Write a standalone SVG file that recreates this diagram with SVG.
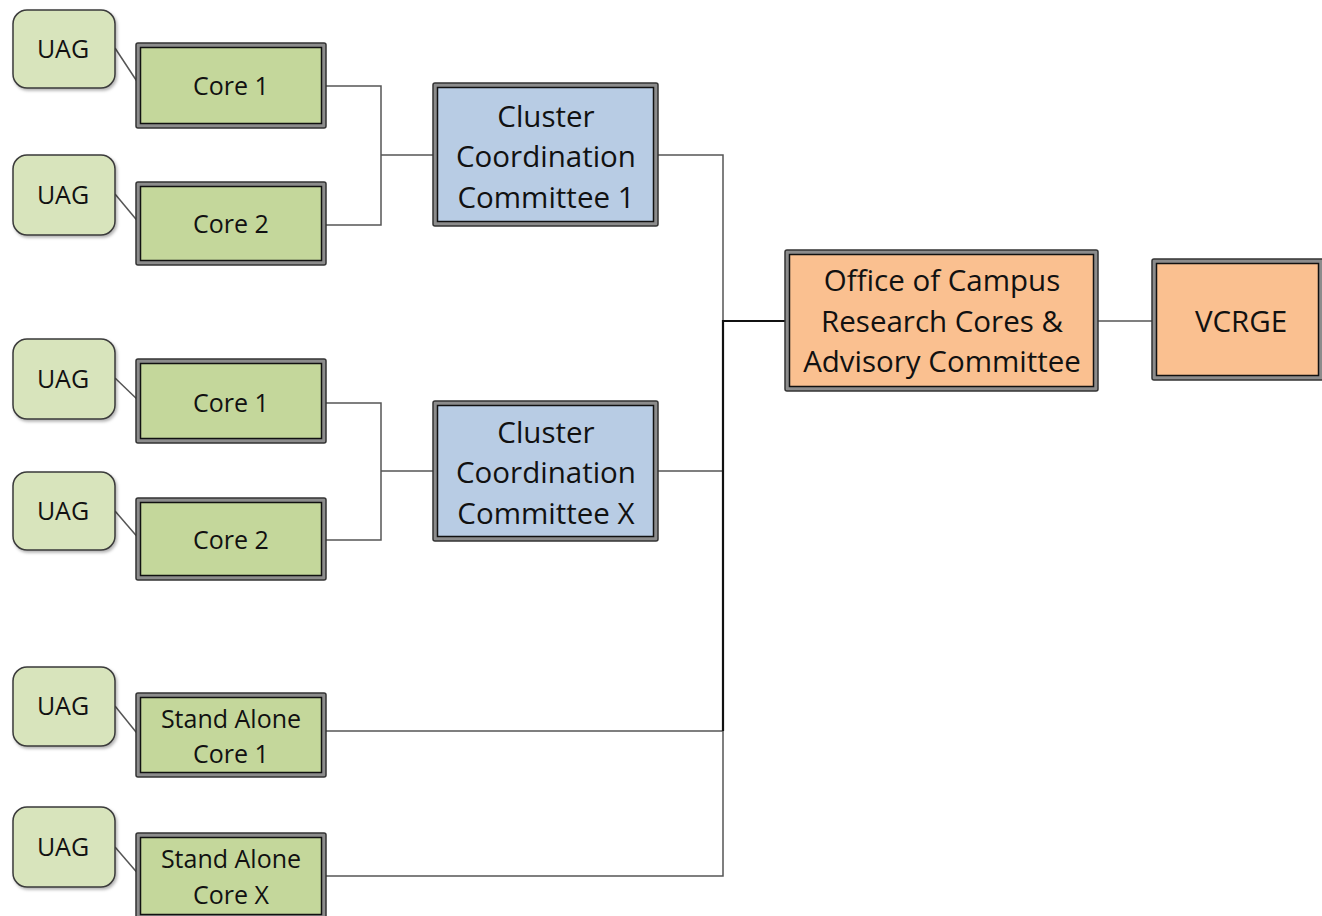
<svg xmlns="http://www.w3.org/2000/svg" width="1322" height="916" viewBox="0 0 1322 916">
<defs>
<filter id="sh" x="-10%" y="-10%" width="130%" height="130%">
<feDropShadow dx="1.5" dy="2" stdDeviation="1.5" flood-color="#000" flood-opacity="0.3"/>
</filter>
<style>
.uag{fill:#d8e4bc;stroke:#3a3a3a;stroke-width:1.5;filter:url(#sh)}
.frame{fill:#8c8c8c;stroke:#333;stroke-width:1.5}
.core{fill:#c4d79b;stroke:#111;stroke-width:1.5}
.clu{fill:#b8cce4;stroke:#111;stroke-width:1.5}
.org{fill:#fac090;stroke:#111;stroke-width:1.5}
text{font-family:"Open Sans","Liberation Sans",sans-serif;fill:#111;text-anchor:middle}
.s{font-size:25px}
.l{font-size:29.5px}
.c{fill:none;stroke:#555;stroke-width:1.5}
.cb{fill:none;stroke:#111;stroke-width:2.2}
</style>
</defs>
<rect width="1322" height="916" fill="#fff"/>
<g id="connectors">
<line class="c" x1="115" y1="48" x2="140" y2="86"/>
<line class="c" x1="115" y1="194" x2="140" y2="224"/>
<line class="c" x1="115" y1="378" x2="140" y2="402"/>
<line class="c" x1="115" y1="511" x2="140" y2="540"/>
<line class="c" x1="115" y1="706" x2="140" y2="737"/>
<line class="c" x1="115" y1="847" x2="140" y2="876"/>
<polyline class="c" points="326,86 381,86 381,225 326,225"/>
<line class="c" x1="381" y1="155" x2="433" y2="155"/>
<polyline class="c" points="326,403 381,403 381,540 326,540"/>
<line class="c" x1="381" y1="471" x2="433" y2="471"/>
<polyline class="c" points="658,155 723,155 723,321"/>
<line class="c" x1="658" y1="471" x2="723" y2="471"/>
<line class="c" x1="322" y1="731" x2="723" y2="731"/>
<polyline class="c" points="326,876 723,876 723,731"/>
<polyline class="cb" points="786,321 723,321 723,731"/>
<line class="c" x1="1098" y1="321" x2="1152" y2="321"/>
</g>
<g id="uag1"><rect class="uag" x="13" y="10" width="102" height="78" rx="14"/><text class="s" x="63" y="58">UAG</text></g>
<g id="uag2"><rect class="uag" x="13" y="155" width="102" height="80" rx="14"/><text class="s" x="63" y="204">UAG</text></g>
<g id="uag3"><rect class="uag" x="13" y="339" width="102" height="80" rx="14"/><text class="s" x="63" y="388">UAG</text></g>
<g id="uag4"><rect class="uag" x="13" y="472" width="102" height="78" rx="14"/><text class="s" x="63" y="520">UAG</text></g>
<g id="uag5"><rect class="uag" x="13" y="667" width="102" height="79" rx="14"/><text class="s" x="63" y="715">UAG</text></g>
<g id="uag6"><rect class="uag" x="13" y="807" width="102" height="80" rx="14"/><text class="s" x="63" y="856">UAG</text></g>
<g id="core1a"><rect class="frame" x="136" y="43" width="190" height="85" rx="2"/><rect class="core" x="140.5" y="47.5" width="181" height="76"/><text class="s" x="231" y="95">Core 1</text></g>
<g id="core2a"><rect class="frame" x="136" y="182" width="190" height="83" rx="2"/><rect class="core" x="140.5" y="186.5" width="181" height="74"/><text class="s" x="231" y="233">Core 2</text></g>
<g id="core1b"><rect class="frame" x="136" y="359" width="190" height="84" rx="2"/><rect class="core" x="140.5" y="363.5" width="181" height="75"/><text class="s" x="231" y="412">Core 1</text></g>
<g id="core2b"><rect class="frame" x="136" y="498" width="190" height="82" rx="2"/><rect class="core" x="140.5" y="502.5" width="181" height="73"/><text class="s" x="231" y="549">Core 2</text></g>
<g id="sa1"><rect class="frame" x="136" y="693" width="190" height="84" rx="2"/><rect class="core" x="140.5" y="697.5" width="181" height="75"/><text class="s" x="231" y="728">Stand Alone</text><text class="s" x="231" y="763">Core 1</text></g>
<g id="sax"><rect class="frame" x="136" y="833" width="190" height="86" rx="2"/><rect class="core" x="140.5" y="837.5" width="181" height="77"/><text class="s" x="231" y="868">Stand Alone</text><text class="s" x="231" y="904">Core X</text></g>
<g id="cluster1"><rect class="frame" x="433" y="83" width="225" height="143" rx="2"/><rect class="clu" x="437.5" y="87.5" width="216" height="134"/><text class="l" x="546" y="127">Cluster</text><text class="l" x="546" y="167">Coordination</text><text class="l" x="546" y="208">Committee 1</text></g>
<g id="clusterx"><rect class="frame" x="433" y="401" width="225" height="140" rx="2"/><rect class="clu" x="437.5" y="405.5" width="216" height="131"/><text class="l" x="546" y="443">Cluster</text><text class="l" x="546" y="483">Coordination</text><text class="l" x="546" y="524">Committee X</text></g>
<g id="office"><rect class="frame" x="785" y="250" width="313" height="141" rx="2"/><rect class="org" x="789.5" y="254.5" width="304" height="132"/><text class="l" x="942" y="291">Office of Campus</text><text class="l" x="942" y="332">Research Cores &amp;</text><text class="l" x="942" y="372">Advisory Committee</text></g>
<g id="vcrge"><rect class="frame" x="1152" y="259" width="174" height="121" rx="2"/><rect class="org" x="1156.5" y="263.5" width="162" height="112"/><text class="l" x="1241" y="332">VCRGE</text></g>
</svg>
